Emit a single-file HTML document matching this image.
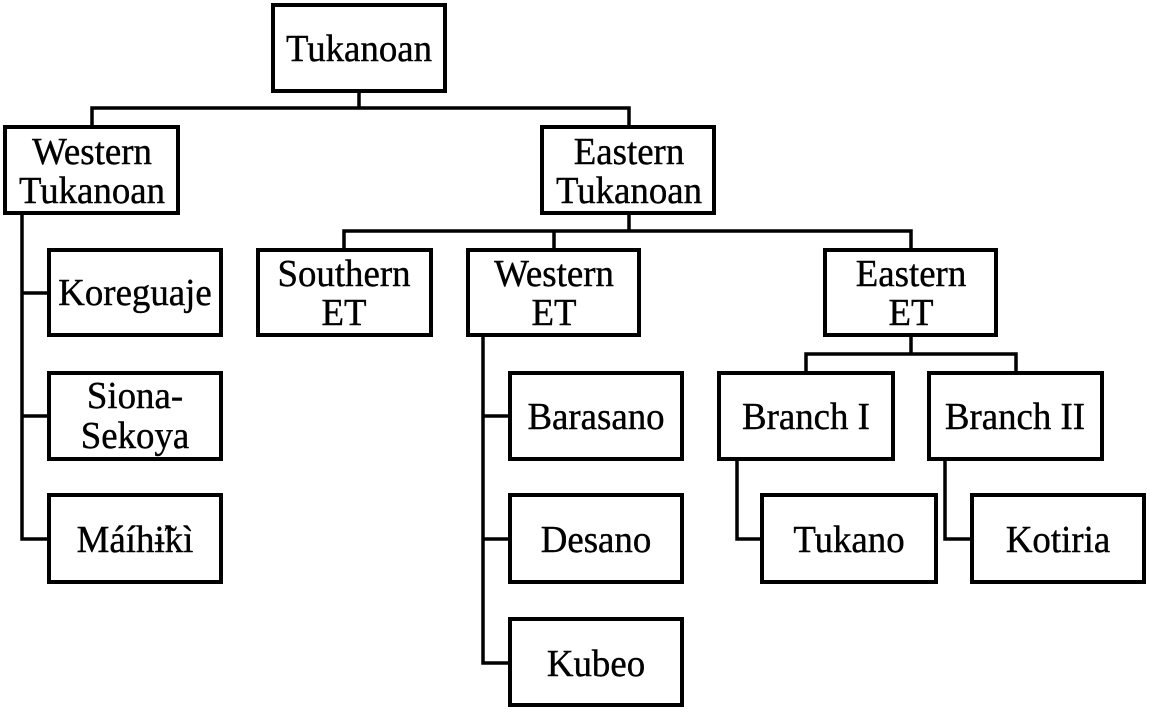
<!DOCTYPE html>
<html><head><meta charset="utf-8"><style>
html,body{margin:0;padding:0;background:#fff;width:1150px;height:710px;overflow:hidden}
svg{display:block}
text{font-family:"Liberation Serif","DejaVu Serif",serif;font-size:38px;fill:#000;stroke:#000;stroke-width:0.4}
</style></head><body>
<svg width="1150" height="710" viewBox="0 0 1150 710" xmlns="http://www.w3.org/2000/svg">
<g fill="none" stroke="#000" stroke-width="3.5" stroke-linejoin="miter">
<polyline points="359,92 359,108"/>
<polyline points="92,126 92,108 629,108 629,126"/>
<polyline points="22,214 22,539 48,539"/>
<line x1="22" y1="293" x2="48" y2="293"/>
<line x1="22" y1="416" x2="48" y2="416"/>
<polyline points="629,214 629,231"/>
<polyline points="344,249 344,231 911,231 911,249"/>
<line x1="554" y1="231" x2="554" y2="249"/>
<polyline points="483,336 483,663 509,663"/>
<line x1="483" y1="416" x2="509" y2="416"/>
<line x1="483" y1="539" x2="509" y2="539"/>
<polyline points="911,336 911,354"/>
<polyline points="806,372 806,354 1016,354 1016,372"/>
<polyline points="737,460 737,539 761,539"/>
<polyline points="945,460 945,539 971,539"/>
</g>
<g fill="none" stroke="#000" stroke-width="4" stroke-linejoin="miter">
<rect x="273" y="5" width="172" height="86"/>
<rect x="5" y="127" width="173" height="86"/>
<rect x="542" y="127" width="172" height="86"/>
<rect x="49" y="250" width="172" height="85"/>
<rect x="49" y="373" width="172" height="86"/>
<rect x="49" y="495" width="172" height="87"/>
<rect x="258" y="250" width="173" height="85"/>
<rect x="468" y="250" width="171" height="85"/>
<rect x="825" y="250" width="171" height="85"/>
<rect x="510" y="373" width="172" height="86"/>
<rect x="510" y="495" width="172" height="87"/>
<rect x="510" y="619" width="172" height="86"/>
<rect x="719" y="373" width="174" height="86"/>
<rect x="929" y="373" width="173" height="86"/>
<rect x="762" y="495" width="174" height="87"/>
<rect x="972" y="495" width="172" height="87"/>
</g>
<g text-anchor="middle">
<text transform="translate(359,61) scale(0.97,1)">Tukanoan</text>
<text transform="translate(92,164) scale(0.97,1)">Western</text>
<text transform="translate(92,203) scale(0.97,1)">Tukanoan</text>
<text transform="translate(629,164) scale(0.97,1)">Eastern</text>
<text transform="translate(629,203) scale(0.97,1)">Tukanoan</text>
<text transform="translate(135,305) scale(0.97,1)">Koreguaje</text>
<text transform="translate(135,408) scale(0.97,1)">Siona-</text>
<text transform="translate(135,448) scale(0.97,1)">Sekoya</text>
<text transform="translate(135,552) scale(0.97,1)">Máíhɨ̃kì</text>
<text transform="translate(344,286) scale(0.97,1)">Southern</text>
<text transform="translate(344,325) scale(0.97,1)">ET</text>
<text transform="translate(554,286) scale(0.97,1)">Western</text>
<text transform="translate(554,325) scale(0.97,1)">ET</text>
<text transform="translate(911,286) scale(0.97,1)">Eastern</text>
<text transform="translate(911,325) scale(0.97,1)">ET</text>
<text transform="translate(596,429) scale(0.97,1)">Barasano</text>
<text transform="translate(596,552) scale(0.97,1)">Desano</text>
<text transform="translate(596,676) scale(0.97,1)">Kubeo</text>
<text transform="translate(806,429) scale(0.97,1)">Branch I</text>
<text transform="translate(1015,429) scale(0.97,1)">Branch II</text>
<text transform="translate(849,552) scale(0.97,1)">Tukano</text>
<text transform="translate(1058,552) scale(0.97,1)">Kotiria</text>
</g>
</svg>
</body></html>
